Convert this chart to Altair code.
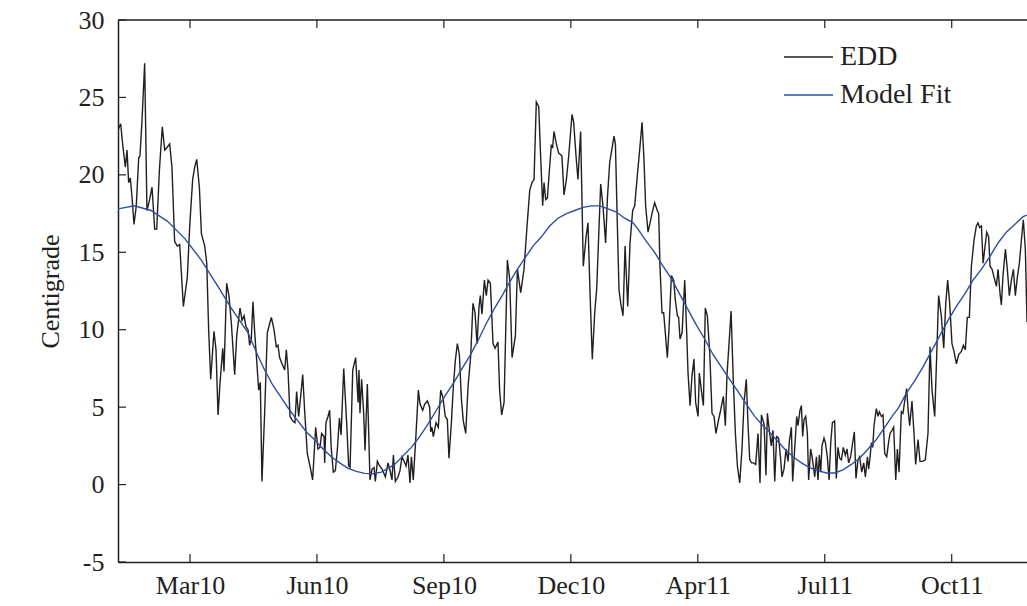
import altair as alt
import pandas as pd

FONT = "Liberation Serif"
INK = "#231f20"

SERIES = ["EDD", "Model Fit"]
COLORS = ["#231f20", "#2b50a1"]

# x is days since the left edge of the plot (early Jan 2010)
X_DOMAIN = [0, 716]
X_TICK_DAYS = [56.7, 156.7, 256.7, 356.7, 456.7, 556.7, 656.7]
X_TICK_LABELS = ["Mar10", "Jun10", "Sep10", "Dec10", "Apr11", "Jul11", "Oct11"]
Y_TICKS = [-5, 0, 5, 10, 15, 20, 25, 30]
Y_TITLE = "Centigrade"

EDD_WINTER_SPRING_10 = [
    (0.0, 22.9), (2.1, 23.3), (3.9, 21.8), (5.8, 20.5), (7.1, 21.6), (8.4, 19.5), (9.7, 19.8),
    (11.0, 18.6), (12.6, 16.8), (14.4, 18.0), (16.3, 21.1), (17.3, 21.2), (18.9, 23.5), (21.0, 27.2),
    (22.8, 17.7), (24.9, 18.4), (26.8, 19.2), (28.9, 16.5), (30.5, 16.5), (32.6, 20.3), (34.9, 23.1),
    (36.8, 21.6), (38.9, 21.8), (40.7, 22.0), (42.5, 20.5), (44.6, 15.7), (46.7, 15.4), (48.6, 15.5),
    (51.5, 11.5), (54.6, 13.4), (56.5, 16.7), (58.8, 19.7), (60.4, 20.5), (62.0, 21.0), (64.1, 19.2),
    (65.7, 16.2), (68.3, 15.4), (69.9, 14.3), (71.4, 10.0), (73.0, 6.8), (75.6, 9.9), (77.2, 8.7),
    (78.8, 4.5), (80.4, 6.6), (82.5, 8.8), (83.5, 7.3), (85.6, 13.0), (87.4, 12.2), (89.3, 10.4),
    (91.9, 7.1), (93.5, 9.6), (96.1, 11.4), (97.7, 10.6), (99.3, 10.9), (100.8, 10.2), (102.4, 10.0),
]
EDD_SPRING_SUMMER_10 = [
    (103.7, 9.0), (105.0, 9.4), (106.3, 11.8), (107.7, 9.8), (109.0, 8.3), (110.8, 6.1), (112.1, 6.6),
    (113.4, 0.2), (115.5, 4.6), (117.6, 9.8), (119.5, 10.4), (120.8, 10.8), (122.9, 10.0), (124.7, 8.9),
    (126.0, 9.0), (127.3, 8.2), (129.2, 7.8), (131.3, 7.4), (132.6, 8.7), (133.9, 7.4), (135.5, 4.4),
    (137.6, 4.1), (139.4, 4.0), (140.7, 6.0), (142.3, 4.4), (143.9, 5.7), (145.5, 7.1), (147.0, 4.8),
    (149.1, 2.0), (151.2, 1.2), (153.3, 0.3), (155.7, 3.7), (157.5, 2.3), (159.1, 2.4), (160.4, 3.3),
    (162.3, 3.1), (162.8, 1.4), (163.8, 4.0), (165.4, 4.4), (166.7, 4.8), (168.0, 2.3), (169.6, 0.8),
    (171.2, 0.9), (172.8, 2.3), (174.4, 4.3), (175.7, 3.2), (177.8, 7.5), (180.1, 4.0), (181.7, 1.2),
    (182.8, 1.1), (184.9, 7.4), (187.2, 8.2), (189.1, 5.3), (189.8, 7.4), (190.6, 4.6), (191.9, 6.8),
    (193.5, 4.6), (194.6, 2.2), (196.4, 6.5), (198.5, 0.3), (200.1, 1.0), (201.7, 1.1), (202.7, 0.2),
    (204.3, 1.5),
]
EDD_SUMMER_AUTUMN_10 = [
    (206.1, 1.2), (208.0, 1.0), (210.6, 0.5), (212.7, 1.4), (214.3, 0.9), (215.8, 0.3), (216.9, 1.9),
    (218.5, 0.2), (220.6, 0.5), (222.1, 0.9), (223.7, 1.8), (225.3, 1.5), (226.9, 1.2), (228.4, 1.9),
    (230.0, 0.1), (231.1, 1.8), (232.6, 0.3), (234.5, 2.9), (236.6, 6.1), (237.9, 5.2), (240.0, 4.8),
    (241.6, 5.2), (243.7, 5.4), (245.5, 5.0), (246.3, 3.4), (247.3, 3.7), (248.4, 3.1), (250.5, 4.0),
    (252.3, 3.7), (254.2, 6.1), (256.0, 5.6), (257.8, 4.4), (259.4, 4.2), (260.7, 1.7), (262.6, 4.0),
    (264.1, 6.3), (265.7, 8.0), (267.3, 9.1), (268.9, 8.4), (270.5, 5.5), (272.0, 4.1), (273.9, 3.3),
    (275.7, 6.3), (277.8, 8.3), (279.6, 11.7), (281.2, 11.1), (282.8, 9.1), (284.4, 11.5), (285.4, 12.2),
    (286.7, 11.0), (288.6, 13.2), (290.1, 12.2), (291.5, 13.2), (293.3, 13.0), (295.4, 9.1), (297.0, 8.8),
    (299.3, 9.2), (300.6, 6.1), (302.2, 4.5), (304.1, 5.3), (306.7, 14.5),
]
EDD_AUTUMN_WINTER_10 = [
    (308.5, 13.3), (310.4, 8.2), (313.0, 9.6), (314.6, 13.9), (317.2, 12.4), (319.8, 13.9), (322.2, 16.7),
    (324.3, 19.0), (326.1, 19.5), (327.7, 19.7), (329.5, 24.7), (331.4, 24.4), (332.7, 21.6), (334.5, 18.0),
    (335.6, 19.5), (336.9, 18.4), (338.2, 18.5), (339.8, 20.3), (341.3, 21.9), (342.4, 21.8), (343.4, 22.8),
    (345.3, 22.0), (347.1, 21.4), (348.7, 21.3), (349.7, 21.2), (351.3, 18.7), (353.2, 19.7), (355.0, 21.2),
    (357.6, 23.9), (358.9, 23.4), (360.8, 21.2), (362.3, 19.7), (364.4, 22.8), (366.5, 14.1), (368.7, 16.0),
    (370.2, 16.9), (371.8, 12.4), (373.6, 8.1), (375.5, 11.1), (377.1, 12.7), (378.6, 16.0), (380.2, 19.4),
    (382.0, 18.0), (384.1, 15.6), (385.5, 18.5), (387.3, 20.8), (389.1, 21.7), (390.7, 22.5), (391.8, 22.0),
    (393.3, 16.9), (394.6, 12.6), (396.0, 11.7), (397.8, 10.9), (399.4, 15.4), (401.5, 11.5), (403.3, 15.6),
    (405.4, 17.7), (407.0, 18.0), (409.1, 20.0),
]
EDD_WINTER_SPRING_11 = [
    (410.9, 21.6), (412.8, 23.4), (414.3, 21.0), (415.6, 18.0), (417.5, 16.3), (419.1, 16.9), (420.6, 17.5),
    (422.7, 18.2), (424.8, 17.7), (425.9, 17.5), (426.9, 14.1), (428.5, 11.1), (429.8, 11.1), (431.1, 9.8),
    (432.7, 8.2), (434.0, 10.0), (435.9, 13.5), (437.7, 13.2), (439.0, 11.9), (440.6, 10.9), (441.6, 10.8),
    (442.7, 9.4), (444.3, 9.8), (446.4, 13.2), (447.9, 9.9), (449.0, 7.2), (450.6, 5.1), (452.1, 7.0),
    (453.7, 8.1), (455.0, 5.3), (456.9, 4.4), (457.9, 7.2), (459.5, 6.1), (461.1, 5.1), (462.6, 11.4),
    (464.2, 10.9), (466.1, 8.5), (467.9, 4.6), (469.5, 4.4), (471.0, 3.3), (473.1, 4.2), (474.7, 4.8),
    (476.8, 5.7), (478.4, 3.8), (479.7, 7.1), (481.3, 9.1), (482.9, 11.2), (484.7, 6.6), (486.3, 3.3),
    (487.9, 1.2), (489.7, 0.1), (491.5, 2.3), (493.1, 5.3), (494.9, 6.8), (496.3, 3.8), (497.6, 1.6),
    (499.1, 1.4), (500.7, 1.4), (502.3, 1.3), (504.1, 3.3), (505.7, 0.1), (506.8, 4.5), (508.9, 3.9),
    (510.4, 0.6), (511.5, 4.6),
]
EDD_SUMMER_11 = [
    (513.3, 3.3), (514.6, 2.5), (515.9, 3.5), (517.3, 0.2), (518.8, 3.1), (520.4, 3.0), (522.0, 1.6),
    (523.0, 0.5), (524.6, 1.0), (526.2, 2.3), (527.8, 1.5), (528.8, 2.8), (530.4, 3.7), (531.4, 0.2),
    (533.0, 2.3), (534.6, 4.4), (535.6, 3.8), (537.2, 4.8), (538.3, 5.1), (539.3, 3.1), (540.4, 4.2),
    (541.7, 4.4), (543.0, 3.3), (544.0, 0.3), (545.6, 2.3), (546.7, 1.8), (547.7, 1.2), (548.8, 0.5),
    (550.1, 1.8), (551.4, 0.3), (552.4, 1.9), (553.5, 0.8), (554.5, 2.5), (556.1, 3.0), (557.2, 2.7),
    (558.7, 1.8), (560.1, 0.3), (561.4, 2.7), (562.7, 4.0), (564.5, 4.1), (565.8, 0.4), (567.1, 2.4),
    (568.5, 1.7), (569.8, 1.6), (571.3, 2.4), (572.9, 1.9), (574.2, 2.3), (575.5, 1.4), (577.1, 1.8),
    (578.7, 2.7), (580.0, 3.4), (581.3, 0.4), (582.9, 1.6), (584.2, 1.8), (585.8, 0.8), (587.4, 1.4),
    (588.7, 0.5), (590.3, 1.8), (591.3, 1.0), (592.4, 1.8), (593.4, 2.7), (594.5, 2.4), (595.5, 3.8),
    (597.3, 4.9), (598.7, 4.4), (599.7, 4.7), (601.3, 4.4), (602.6, 4.5), (603.9, 2.0), (605.5, 1.8),
    (607.1, 2.8), (608.1, 3.3), (609.7, 3.5), (611.0, 3.7), (612.6, 0.3), (613.9, 2.3),
]
EDD_AUTUMN_11 = [
    (615.2, 0.8), (617.0, 4.7), (618.3, 4.6), (620.2, 5.7), (621.2, 6.2), (622.3, 4.9), (623.6, 3.8),
    (625.4, 5.4), (627.0, 3.3), (628.3, 1.3), (630.2, 2.9), (631.7, 1.5), (633.8, 1.5), (635.9, 1.6),
    (638.0, 3.3), (639.6, 8.9), (641.2, 6.1), (643.3, 4.4), (644.9, 8.4), (646.4, 12.2), (648.5, 10.9),
    (650.4, 8.8), (652.0, 11.7), (653.5, 13.2), (655.1, 11.7), (656.9, 9.1), (658.5, 8.6), (660.4, 7.8),
    (662.2, 8.4), (664.3, 8.6), (665.9, 9.0), (667.4, 8.7), (669.0, 10.8), (670.6, 10.8), (672.2, 14.1),
    (674.3, 15.8), (676.1, 16.7), (677.4, 16.9), (678.7, 16.6), (680.1, 16.7), (681.4, 14.3), (682.7, 15.2),
    (684.3, 16.3), (685.8, 16.0), (686.9, 14.1), (688.5, 13.9), (690.0, 13.4), (691.9, 12.8), (693.2, 13.9),
    (694.8, 12.3), (695.8, 11.6), (697.1, 13.5), (699.0, 15.2), (700.5, 13.9), (702.1, 12.2), (703.7, 13.2),
    (705.3, 13.9), (706.8, 12.2), (708.4, 13.4), (710.0, 14.3), (711.6, 15.8), (713.1, 17.1), (714.7, 15.2),
    (716.0, 10.5),
]

MODEL_FIT = [
    (0, 17.8), (13, 18.0), (26, 17.7), (39, 17.0), (52.5, 15.9), (65.6, 14.5), (78.7, 12.8), (89.2, 11.4),
    (102.4, 9.8), (110.3, 8.3), (115.5, 7.4), (122.1, 6.4), (128.7, 5.6), (135.2, 4.8), (141.8, 4.1),
    (148.4, 3.4), (154.9, 2.9), (161.5, 2.3), (168, 1.8), (174.6, 1.4), (181.2, 1.05), (187.7, 0.85),
    (194.3, 0.72), (200.9, 0.7), (207.5, 0.8), (217.9, 1.3), (231.1, 2.4), (237.6, 3.1), (244.2, 3.9),
    (250.8, 4.8), (257.3, 5.7), (263.9, 6.5), (270.4, 7.4), (277, 8.3), (283.6, 9.3), (290.1, 10.4),
    (296.7, 11.4), (303.3, 12.3), (307.2, 12.9), (313.8, 13.8), (320.3, 14.6), (326.9, 15.4), (333.5, 16.0),
    (340, 16.7), (346.6, 17.2), (353.2, 17.5), (359.7, 17.7), (366.3, 17.9), (372.8, 18.0), (379.4, 18.0),
    (386, 17.8), (392.5, 17.6), (399.1, 17.2), (405.7, 16.9), (409.6, 16.5), (416.2, 15.7), (422.7, 15.0),
    (429.3, 14.1), (435.9, 13.3), (442.4, 12.3), (449, 11.3), (455.6, 10.3), (462.1, 9.4), (468.7, 8.4),
    (475.2, 7.6), (481.8, 6.8), (488.4, 6.0), (494.9, 5.2), (501.5, 4.4), (508.1, 3.8), (512, 3.5),
    (518.6, 2.9), (525.1, 2.3), (531.7, 1.8), (538.3, 1.4), (544.8, 1.1), (551.4, 0.9), (558, 0.75),
    (564.5, 0.75), (571.1, 0.95), (577.6, 1.3), (584.2, 1.7), (590.8, 2.3), (597.3, 2.9), (603.9, 3.7),
    (610.5, 4.5), (614.4, 4.9), (621, 5.9), (627.5, 6.7), (634.1, 7.6), (640.7, 8.6), (647.2, 9.6),
    (653.8, 10.6), (660.4, 11.5), (666.9, 12.3), (673.5, 13.2), (680, 13.9), (686.6, 14.7), (693.2, 15.6),
    (699.7, 16.3), (706.3, 16.8), (712.9, 17.3), (716, 17.4),
]

# ---------------------------------------------------------------- data tables
edd = (EDD_WINTER_SPRING_10 + EDD_SPRING_SUMMER_10 + EDD_SUMMER_AUTUMN_10 + EDD_AUTUMN_WINTER_10
       + EDD_WINTER_SPRING_11 + EDD_SUMMER_11 + EDD_AUTUMN_11)
rows = [{"day": d, "value": v, "series": SERIES[0], "i": k} for k, (d, v) in enumerate(edd)]
rows += [{"day": d, "value": v, "series": SERIES[1], "i": k} for k, (d, v) in enumerate(MODEL_FIT)]
df = pd.DataFrame(rows)
xt = pd.DataFrame({"day": X_TICK_DAYS})
yt = pd.DataFrame({"value": Y_TICKS})
leg = pd.DataFrame({"series": SERIES})

W, H = 909, 542
FS = 26

days_js = "[" + ",".join(str(d) for d in X_TICK_DAYS) + "]"
labels_js = "[" + ",".join(f"'{s}'" for s in X_TICK_LABELS) + "]"

xscale = alt.Scale(domain=X_DOMAIN, nice=False, zero=False)
yscale = alt.Scale(domain=[Y_TICKS[0], Y_TICKS[-1]], nice=False, zero=False)
cscale = alt.Scale(domain=SERIES, range=COLORS)

x_axis = alt.Axis(values=X_TICK_DAYS, labelExpr=f"{labels_js}[indexof({days_js}, datum.value)]",
                  ticks=False, grid=False, domain=True, domainColor=INK, domainWidth=1.5,
                  labelFont=FONT, labelFontSize=FS, labelColor=INK, labelPadding=10,
                  labelOverlap=False, title=None)
y_axis = alt.Axis(values=Y_TICKS, labelExpr="'' + datum.value", ticks=False, grid=False,
                  domain=True, domainColor=INK, domainWidth=1.5, labelFont=FONT, labelFontSize=FS,
                  labelColor=INK, labelPadding=14, title=Y_TITLE, titleFont=FONT,
                  titleFontSize=FS, titleFontWeight="normal", titleColor=INK,
                  titleX=-68, titleY=H / 2, titleAngle=-90, titleAlign="center",
                  titleBaseline="middle")

X = alt.X("day:Q", scale=xscale, axis=x_axis)
Y = alt.Y("value:Q", scale=yscale, axis=y_axis)

lines = alt.Chart(df).mark_line(clip=True, strokeWidth=1.4).encode(
    x=X, y=Y,
    color=alt.Color("series:N", scale=cscale, legend=None),
    order="i:Q",
)
edd_line = lines.transform_filter(alt.datum.series == SERIES[0])
fit_line = lines.transform_filter(alt.datum.series == SERIES[1])

tick_style = dict(color=INK, strokeWidth=1.2)
bottom_ticks = alt.Chart(xt).mark_rule(**tick_style).encode(
    x=X, y=alt.value(H), y2=alt.value(H - 8))
top_ticks = alt.Chart(xt).mark_rule(**tick_style).encode(
    x=X, y=alt.value(0), y2=alt.value(8))
left_ticks = alt.Chart(yt).mark_rule(**tick_style).encode(
    y=Y, x=alt.value(0), x2=alt.value(8))
top_border = alt.Chart(yt.head(1)).mark_rule(color=INK, strokeWidth=1.5).encode(
    x=alt.value(0), x2=alt.value(W), y=alt.value(0))

legend_layers = []
for k, name in enumerate(SERIES):
    yy = 37 + 38 * k
    src = alt.Chart(leg).transform_filter(alt.datum.series == name)
    legend_layers.append(src.mark_rule(strokeWidth=1.4).encode(
        x=alt.value(666), x2=alt.value(715), y=alt.value(yy),
        color=alt.Color("series:N", scale=cscale, legend=None)))
    legend_layers.append(src.mark_text(align="left", baseline="middle", font=FONT,
                                       fontSize=28, color=INK).encode(
        x=alt.value(722), y=alt.value(yy), text="series:N"))

chart = alt.layer(
    edd_line, fit_line, bottom_ticks, top_ticks, left_ticks, top_border, *legend_layers
).properties(
    width=W, height=H,
    padding={"left": 118, "top": 20, "right": 0, "bottom": 44},
    autosize=alt.AutoSizeParams(type="none"),
    background="white",
).configure_view(strokeWidth=0)

chart.save("out.html", embed_options={"renderer": "svg", "actions": False})
